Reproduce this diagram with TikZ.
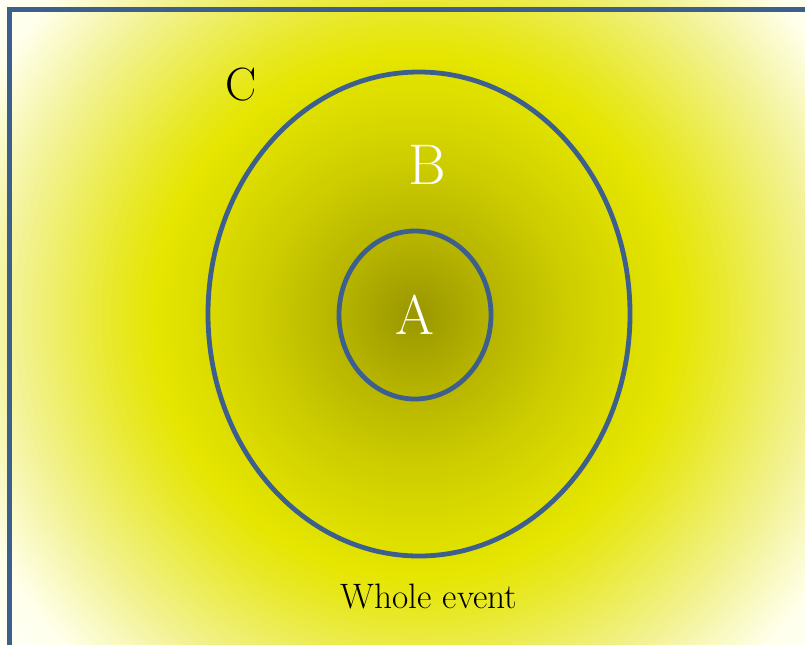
\documentclass[tikz,border=0pt]{standalone}
\usepackage{fontspec}
\usepackage{tikz}
\usetikzlibrary{shapes.geometric}

\definecolor{setblue}{RGB}{61,95,142}
\pgfdeclareradialshading{eventglow}{\pgfpoint{0bp}{0bp}}{%
  rgb(0bp)=(0.60,0.59,0);
  rgb(4bp)=(0.72,0.71,0);
  rgb(7.5bp)=(0.80,0.80,0);
  rgb(10.5bp)=(0.86,0.86,0);
  rgb(13bp)=(0.90,0.90,0);
  rgb(15bp)=(0.91,0.91,0.15);
  rgb(20bp)=(0.95,0.95,0.58);
  rgb(24bp)=(1,1,0.92);
  rgb(28bp)=(1,1,1);
  rgb(50bp)=(1,1,1)}

\begin{document}
\begin{tikzpicture}[x=0.75pt,y=-0.75pt,
    setline/.style={draw=setblue, line width=3.6pt},
    setellipse/.style={ellipse, setline, inner sep=0pt},
    biglabel/.style={text=white, font=\fontsize{42}{48}\selectfont}]
                \useasboundingbox (0,0) rectangle (805,644);
                \clip (0,0) rectangle (805,644);

                % whole event
                \shade[shading=eventglow] (-85,-185) rectangle (915,815);
                \draw[draw=setblue, line width=3.75pt] (9.5,9.5) rectangle (830,660);

                \node[setellipse, minimum width=316.5pt, minimum height=363pt] (b) at (419,314) {};
                \node[setellipse, minimum width=114pt, minimum height=126pt, biglabel] (a) at (415,315) {A};

                \node[biglabel, font=\fontsize{43}{48}\selectfont, anchor=base] (blabel) at (427,184) {B};
                \node[font=\fontsize{35}{40}\selectfont, anchor=base] (clabel) at (241,100) {C};
                \node[font=\fontsize{26.5}{30}\selectfont, anchor=base] (whole) at (429,608) {Whole event};
            \end{tikzpicture}
\end{document}
